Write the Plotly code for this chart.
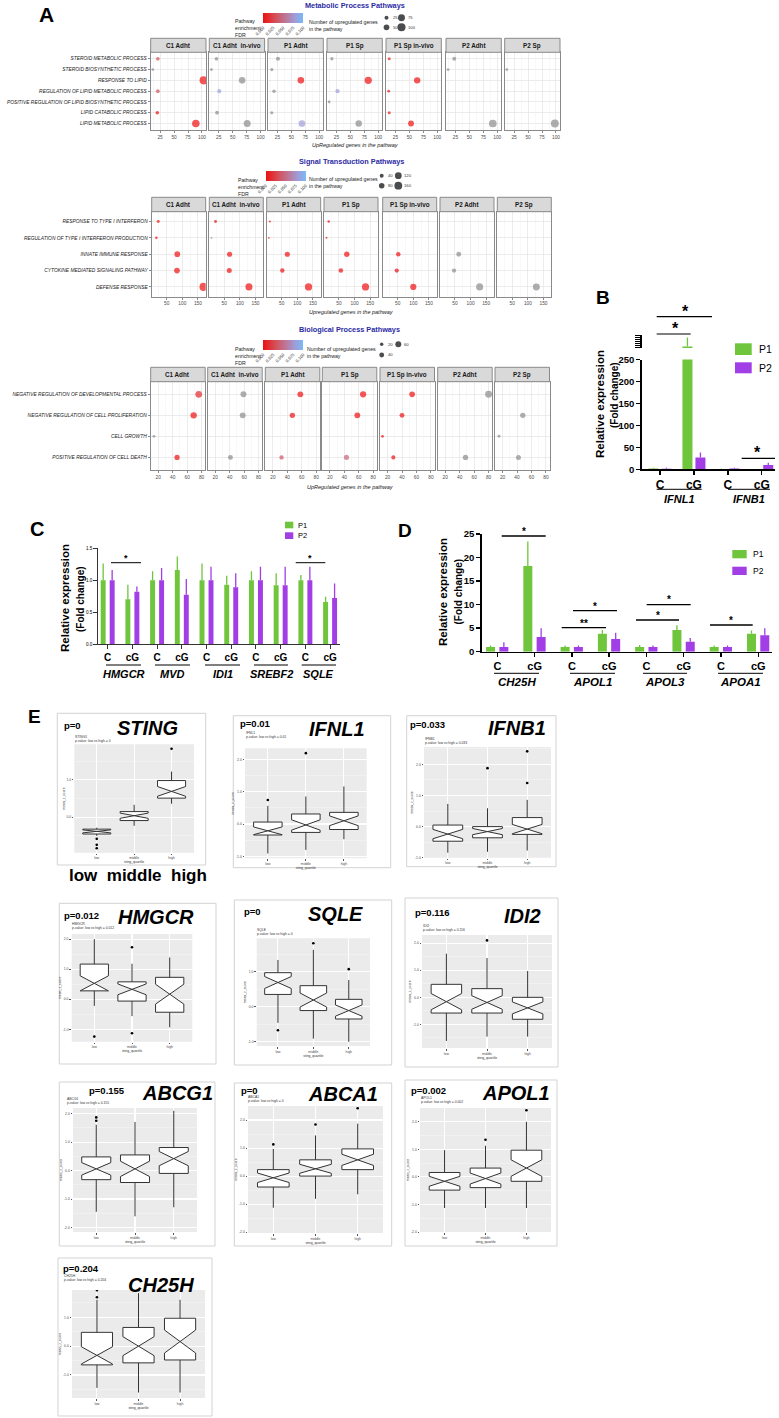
import plotly.graph_objects as go

W, H = 779, 1418
FONT = "Liberation Sans, Arial, sans-serif"
GREEN = "#6FC53B"
PURPLE = "#A13EE6"
DOT_GREY = "#8C8C8C"
NAVY = "#2B2BA3"
FDR_SCALE = [[0.0, "#EE1010"], [0.3, "#D44E56"], [0.6, "#B97CA0"], [0.8, "#9E9DD8"], [1.0, "#79BAF7"]]

# ======================= DATA =======================
FACETS = ["C1 Adht", "C1 Adht  in-vivo", "P1 Adht", "P1 Sp", "P1 Sp in-vivo", "P2 Adht", "P2 Sp"]
FDR_TICKS = [0.0, 0.025, 0.05, 0.075, 0.1]
FDR_TICK_TEXT = ["0.000", "0.025", "0.050", "0.075", "0.100"]

MET_PATHWAYS = ["STEROID METABOLIC PROCESS", "STEROID BIOSYNTHETIC PROCESS", "RESPONSE TO LIPID",
                "REGULATION OF LIPID METABOLIC PROCESS", "POSITIVE REGULATION OF LIPID BIOSYNTHETIC PROCESS",
                "LIPID CATABOLIC PROCESS", "LIPID METABOLIC PROCESS"]
MET_COUNTS = [
    [21, 12, 103, 21, None, 20, 89],
    [21, 12, 67, 26, None, 22, 76],
    [26, 15, 67, 19, None, 15, 69],
    [17, None, 82, 27, 12, None, 65],
    [14, None, 64, 13, None, 14, 53],
    [23, 12, None, None, None, None, 92],
    [None, 12, None, None, None, None, 98],
]
MET_FDR = [
    [0.03, None, 0.0, 0.03, None, 0.0, 0.0],
    [None, None, None, 0.085, None, None, None],
    [None, None, 0.0, None, None, None, 0.08],
    [None, None, 0.0, 0.08, None, None, None],
    [0.01, None, 0.0, 0.005, None, 0.005, 0.0],
    [None, None, None, None, None, None, None],
    [None, None, None, None, None, None, None],
]
MET_SIZE_LEGEND = [25, 75, 50, 100]

SIG_PATHWAYS = ["RESPONSE TO TYPE I INTERFERON", "REGULATION OF TYPE I INTERFERON PRODUCTION",
                "INNATE IMMUNE RESPONSE", "CYTOKINE MEDIATED SIGNALING PATHWAY", "DEFENSE RESPONSE"]
SIG_COUNTS = [
    [23, 17, 84, 83, 168],
    [22, 9, 67, 66, 129],
    [12, 9, 68, 52, 136],
    [17, 10, 75, 56, 135],
    [None, None, 52, 47, 100],
    [None, None, 62, 47, 129],
    [None, None, None, None, 127],
]
SIG_FDR = [
    [0.0, 0.0, 0.0, 0.0, 0.0],
    [0.0, None, 0.0, 0.0, 0.0],
    [0.0, 0.0, 0.0, 0.0, 0.0],
    [0.0, 0.0, 0.0, 0.0, 0.0],
    [None, None, 0.0, 0.0, 0.0],
    [None, None, None, None, None],
    [None, None, None, None, None],
]
SIG_SIZE_LEGEND = [40, 120, 80, 160]

BIO_PATHWAYS = ["NEGATIVE REGULATION OF DEVELOPMENTAL PROCESS", "NEGATIVE REGULATION OF CELL PROLIFERATION",
                "CELL GROWTH", "POSITIVE REGULATION OF CELL DEATH"]
BIO_COUNTS = [
    [76, 69, 14, 46],
    [59, 58, None, 41],
    [58, 47, None, 32],
    [66, 58, None, 43],
    [54, 40, 13, 28],
    [80, None, None, 48],
    [None, 48, 15, 42],
]
BIO_FDR = [
    [0.012, 0.0, None, 0.0],
    [None, None, None, None],
    [0.0, 0.0, None, 0.035],
    [0.0, 0.0, None, 0.045],
    [0.0, 0.0, 0.0, 0.0],
    [None, None, None, None],
    [None, None, None, None],
]
BIO_SIZE_LEGEND = [20, 60, 40]

# Panel B
B_TICKS = ["C", "cG", "C", "cG"]
B_GENES = ["IFNL1", "IFNB1"]
B_P1 = [2, 278, 0.5, 0.3]
B_P1_ERR = [1.5, 17, 0.5, 0.3]
B_P2 = [1.5, 27, 2, 10]
B_P2_ERR = [2, 11, 1.5, 5]
B_YTICKS = [0, 50, 100, 150, 200, 250]

# Panel C
C_GENES = ["HMGCR", "MVD", "IDI1", "SREBF2", "SQLE"]
C_TICKS = ["C", "cG"] * 5
C_P1 = [1.0, 0.70, 1.0, 1.16, 1.0, 0.93, 1.0, 0.92, 1.0, 0.66]
C_P1_ERR = [0.26, 0.23, 0.14, 0.21, 0.26, 0.14, 0.14, 0.19, 0.08, 0.08]
C_P2 = [1.0, 0.82, 1.0, 0.77, 1.0, 0.89, 1.0, 0.92, 1.0, 0.72]
C_P2_ERR = [0.16, 0.08, 0.19, 0.25, 0.21, 0.22, 0.21, 0.29, 0.21, 0.23]
C_YTICKS = [0.0, 0.5, 1.0, 1.5]

# Panel D
D_GENES = ["CH25H", "APOL1", "APOL3", "APOA1"]
D_TICKS = ["C", "cG"] * 4
D_P1 = [1.0, 18.2, 1.0, 3.8, 1.0, 4.6, 1.0, 3.8]
D_P1_ERR = [0.3, 5.2, 0.3, 0.8, 0.4, 1.0, 0.3, 0.7]
D_P2 = [1.0, 3.1, 1.0, 2.7, 1.0, 2.1, 1.0, 3.5]
D_P2_ERR = [1.0, 1.9, 0.3, 1.3, 0.3, 0.8, 0.3, 1.5]
D_YTICKS = [0, 5, 10, 15, 20, 25]

# Panel E (box statistics per sting quartile: low, middle, high)
QUARTILES = ["low", "middle", "high"]
E_GENES = ["STING", "IFNL1", "IFNB1", "HMGCR", "SQLE", "IDI2", "ABCG1", "ABCA1", "APOL1", "CH25H"]
E_SMALL = ["STING1", "IFNL1", "IFNB1", "HMGCR", "SQLE", "IDI2", "ABCG1", "ABCA1", "APOL1", "CH25H"]
E_PVALUES = ["0", "0.01", "0.033", "0.012", "0", "0.116", "0.155", "0", "0.002", "0.204"]

BOX_STING = dict(lo=[-0.50, -0.23, 0.36], q1=[-0.45, -0.09, 0.51], med=[-0.38, 0.04, 0.69],
                 q3=[-0.32, 0.15, 0.98], hi=[-0.28, 0.33, 1.22], notch=[0.04, 0.07, 0.13],
                 out_x=[0, 0, 0, 2], out_y=[-0.58, -0.74, -0.83, 1.83])
BOX_IFNL1 = dict(lo=[-0.91, -0.80, -0.47], q1=[-0.34, -0.26, -0.17], med=[-0.21, -0.03, 0.10],
                 q3=[0.06, 0.31, 0.36], hi=[0.56, 0.85, 1.16], notch=[0.12, 0.16, 0.15],
                 out_x=[0, 1], out_y=[0.74, 2.19])
BOX_IFNB1 = dict(lo=[-0.84, -0.81, -0.77], q1=[-0.47, -0.36, -0.25], med=[-0.24, -0.16, -0.08],
                 q3=[0.05, 0.0, 0.29], hi=[0.73, 0.59, 0.86], notch=[0.15, 0.10, 0.15],
                 out_x=[1, 2, 2], out_y=[1.88, 1.40, 2.42])
BOX_HMGCR = dict(lo=[-0.22, -0.56, -0.93], q1=[0.28, -0.06, -0.43], med=[0.53, 0.33, 0.17],
                 q3=[1.17, 0.58, 0.73], hi=[2.0, 1.18, 1.39], notch=[0.25, 0.18, 0.33],
                 out_x=[0, 1, 1], out_y=[-1.24, 1.73, -1.13])
BOX_SQLE = dict(lo=[-0.46, -0.91, -1.0], q1=[0.35, -0.11, -0.35], med=[0.69, 0.19, -0.11],
                q3=[0.97, 0.60, 0.21], hi=[1.33, 1.62, 0.76], notch=[0.17, 0.20, 0.16],
                out_x=[0, 1, 2], out_y=[-0.67, 1.81, 1.07])
BOX_IDI2 = dict(lo=[-1.61, -1.45, -1.45], q1=[-0.58, -0.58, -0.81], med=[-0.16, -0.19, -0.39],
                q3=[0.48, 0.32, 0.0], hi=[1.61, 1.45, 0.97], notch=[0.30, 0.25, 0.22],
                out_x=[1], out_y=[2.1])
BOX_ABCG1 = dict(lo=[-1.45, -1.61, -1.29], q1=[-0.32, -0.42, -0.10], med=[0.06, 0.06, 0.42],
                 q3=[0.48, 0.55, 0.81], hi=[1.61, 1.71, 2.10], notch=[0.22, 0.27, 0.25],
                 out_x=[0, 0], out_y=[1.87, 1.75])
BOX_ABCA1 = dict(lo=[-1.13, -0.81, -0.65], q1=[-0.39, 0.0, 0.23], med=[-0.06, 0.26, 0.58],
                 q3=[0.23, 0.58, 0.97], hi=[0.97, 1.45, 1.87], notch=[0.17, 0.16, 0.20],
                 out_x=[0, 1, 2], out_y=[1.13, 1.84, 2.42])
BOX_APOL1 = dict(lo=[-1.13, -1.13, -1.13], q1=[-0.48, -0.39, -0.16], med=[-0.16, -0.06, 0.32],
                 q3=[0.16, 0.32, 0.97], hi=[0.97, 1.13, 2.0], notch=[0.18, 0.20, 0.30],
                 out_x=[1, 2], out_y=[1.35, 2.42])
BOX_CH25H = dict(lo=[-1.45, -1.61, -1.61], q1=[-0.65, -0.58, -0.48], med=[-0.32, 0.0, 0.16],
                 q3=[0.48, 0.65, 0.97], hi=[1.61, 1.84, 1.61], notch=[0.30, 0.33, 0.40],
                 out_x=[0, 0, 1], out_y=[1.94, 1.70, 1.94])
E_BOXES = [BOX_STING, BOX_IFNL1, BOX_IFNB1, BOX_HMGCR, BOX_SQLE, BOX_IDI2, BOX_ABCG1, BOX_ABCA1, BOX_APOL1, BOX_CH25H]
E_YTICKS = [[0, 1], [-1, 0, 1, 2], [-1, 0, 1, 2], [-1, 0, 1, 2], [-1, 0, 1], [-1, 0, 1, 2],
            [-2, -1, 0, 1, 2], [-2, -1, 0, 1, 2], [-2, -1, 0, 1, 2], [-1, 0, 1]]

# ======================= LAYOUT GEOMETRY (pixels) =======================
E_GEOM = [
    dict(frame=(57.3, 713.3, 205.7, 865), inner=(74.3, 744.3, 194, 852.7), p=(63, 725), g=(147, 728.3), t=(74, 739), yr=[-0.95, 1.95]),
    dict(frame=(233.3, 715.7, 390.7, 867.7), inner=(245, 748.3, 366.7, 858.3), p=(239, 723), g=(336.5, 729), t=(245, 735), yr=[-1.06, 2.34]),
    dict(frame=(406.7, 715.7, 556, 866.7), inner=(424, 747, 551, 857.7), p=(409, 724), g=(516.5, 728), t=(424, 741), yr=[-1.0, 2.56]),
    dict(frame=(59.3, 903.3, 216, 1064), inner=(71.7, 934, 192.3, 1041.7), p=(63, 915), g=(155.5, 916.7), t=(71, 926), yr=[-1.41, 2.17]),
    dict(frame=(234.3, 900, 391.7, 1065), inner=(256.7, 938.3, 370, 1046), p=(243, 911.7), g=(335.5, 914), t=(256, 932), yr=[-1.12, 1.95]),
    dict(frame=(405, 898, 558, 1067), inner=(422, 935, 552, 1048), p=(414, 912), g=(522, 916), t=(422, 928), yr=[-1.87, 2.3]),
    dict(frame=(59.3, 1082, 215, 1246), inner=(73, 1108, 197, 1232), p=(88, 1090), g=(177.5, 1093), t=(66, 1101), yr=[-2.16, 2.2]),
    dict(frame=(234.3, 1083, 391.7, 1246), inner=(248, 1106, 383, 1233), p=(240, 1090), g=(343, 1094), t=(247, 1099), yr=[-2.03, 2.5]),
    dict(frame=(405, 1080, 557, 1246), inner=(420, 1108, 551, 1232), p=(410, 1090), g=(516, 1093), t=(420, 1100), yr=[-2.0, 2.5]),
    dict(frame=(58, 1258, 212, 1416), inner=(72, 1290, 205, 1398), p=(62, 1268), g=(161, 1285), t=(63, 1278), yr=[-1.8, 1.95]),
]

fig = go.Figure()
axes_layout = {}
shapes = []
annotations = []
_n = [0]


def new_axes(x0, y0, x1, y1, xa, ya):
    _n[0] += 1
    k = _n[0]
    sx = '' if k == 1 else str(k)
    xa = dict(xa)
    ya = dict(ya)
    xa.update(domain=[max(0, x0 / W), min(1, x1 / W)], anchor='y' + sx, automargin=False)
    ya.update(domain=[max(0, 1 - y1 / H), min(1, 1 - y0 / H)], anchor='x' + sx, automargin=False)
    axes_layout['xaxis' + sx] = xa
    axes_layout['yaxis' + sx] = ya
    return 'x' + sx, 'y' + sx


def ann(x, y, text, size, color='black', xanchor='center', yanchor='middle', bold=False, italic=False,
        angle=0, align='center'):
    t = text
    if italic:
        t = '<i>' + t + '</i>'
    if bold:
        t = '<b>' + t + '</b>'
    annotations.append(dict(xref='paper', yref='paper', x=x / W, y=1 - y / H, text=t, showarrow=False,
                            font=dict(size=size, color=color, family=FONT), xanchor=xanchor,
                            yanchor=yanchor, textangle=angle, align=align, borderpad=0))


def hline(x0, x1, y, color='black', width=1.0):
    shapes.append(dict(type='line', xref='paper', yref='paper', x0=x0 / W, x1=x1 / W, y0=1 - y / H,
                       y1=1 - y / H, line=dict(color=color, width=width)))


def rect(x0, y0, x1, y1, fill, lc, lw=1.0):
    shapes.append(dict(type='rect', xref='paper', yref='paper', x0=x0 / W, x1=x1 / W, y0=1 - y1 / H,
                       y1=1 - y0 / H, fillcolor=fill, line=dict(color=lc, width=lw)))


def star(x, yc, size, text='*'):
    ann(x, yc + 0.25 * size, text, size, bold=True)


# overlay axis in pixel units (used for the size legends)
OX, OY = new_axes(0, 0, W, H, dict(range=[0, W], visible=False), dict(range=[H, 0], visible=False))

# ======================= PANEL A =======================
SECTIONS = [
    dict(title="Metabolic Process Pathways", title_xy=(355, 5.5), paths=MET_PATHWAYS, counts=MET_COUNTS,
         fdr=MET_FDR, legend=MET_SIZE_LEGEND,
         x0s=[150.7, 209.3, 268.0, 327.0, 386.0, 446.0, 504.7], w=55.3, strip=(38.3, 52.3), body=(52.3, 130.0),
         xr=[8.2, 107.2], xt=[25, 50, 75, 100], xm=[12.5, 37.5, 62.5, 87.5], sizeref=3.1, cax='coloraxis',
         cbar=(263.3, 12.7), fdr_txt=(234, 17), size_txt=(307.5, 17.5), size_cols=(386.5, 401.5),
         size_rows=(17.7, 27.3), xtitle="UpRegulated genes in the pathway", xtitle_y=144.5),
    dict(title="Signal Transduction Pathways", title_xy=(351.7, 161.7), paths=SIG_PATHWAYS, counts=SIG_COUNTS,
         fdr=SIG_FDR, legend=SIG_SIZE_LEGEND,
         x0s=[151.7, 209.3, 266.7, 324.0, 382.7, 440.0, 497.3], w=54.0, strip=(197.3, 211.7), body=(211.7, 296.7),
         xr=[2, 175], xt=[50, 100, 150], xm=[25, 75, 125], sizeref=5.2, cax='coloraxis2',
         cbar=(265.7, 170.7), fdr_txt=(237, 176.5), size_txt=(307.7, 175.5), size_cols=(381.7, 398.3),
         size_rows=(175.7, 185.7), xtitle="Upregulated genes in the pathway", xtitle_y=311.7),
    dict(title="Biological Process Pathways", title_xy=(349.5, 330), paths=BIO_PATHWAYS, counts=BIO_COUNTS,
         fdr=BIO_FDR, legend=BIO_SIZE_LEGEND,
         x0s=[150.7, 207.7, 265.3, 322.3, 380.0, 437.7, 495.0], w=54.5, strip=(367.3, 381.7), body=(381.7, 470.0),
         xr=[9.5, 85], xt=[20, 40, 60, 80], xm=[10, 30, 50, 70], sizeref=3.37, cax='coloraxis3',
         cbar=(263.3, 340), fdr_txt=(234, 345), size_txt=(306, 344.5), size_cols=(381.7, 398.3),
         size_rows=(344.3, 355), xtitle="UpRegulated genes in the pathway", xtitle_y=486.7),
]

coloraxes = {}
for s in SECTIONS:
    n = len(s['paths'])
    for j, fname in enumerate(FACETS):
        x0 = s['x0s'][j]
        x1 = x0 + s['w']
        xa = dict(range=s['xr'], tickmode='array', tickvals=s['xt'], ticktext=[str(v) for v in s['xt']],
                  tickfont=dict(size=4.8, color='#4D4D4D', family=FONT), ticks='outside', ticklen=2,
                  tickcolor='#8A8A8A', showgrid=True, gridcolor='#E4E4E4', gridwidth=0.7,
                  minor=dict(showgrid=True, gridcolor='#F1F1F1', gridwidth=0.5, tickvals=s['xm']),
                  showline=True, mirror=True, linecolor='#8A8A8A', linewidth=1, zeroline=False)
        ya = dict(range=[n - 0.4, -0.6], tickmode='array', tickvals=list(range(n)),
                  ticktext=['<i>' + p + '</i>' for p in s['paths']], showticklabels=(j == 0),
                  ticks='outside' if j == 0 else '', ticklen=2, tickcolor='#8A8A8A',
                  tickfont=dict(size=4.9, color='#1A1A1A', family=FONT), showgrid=True, gridcolor='#E4E4E4',
                  gridwidth=0.7, showline=True, mirror=True, linecolor='#8A8A8A', linewidth=1, zeroline=False)
        xr, yr = new_axes(x0, s['body'][0], x1, s['body'][1], xa, ya)
        cnt = s['counts'][j]
        fdr = s['fdr'][j]
        gx, gy, cx, cy, cc = [], [], [], [], []
        for i in range(n):
            if cnt[i] is None:
                continue
            if fdr[i] is None:
                gx.append(cnt[i]); gy.append(i)
            else:
                cx.append(cnt[i]); cy.append(i); cc.append(fdr[i])
        if gx:
            fig.add_trace(go.Scatter(x=gx, y=gy, mode='markers', xaxis=xr, yaxis=yr, showlegend=False,
                                     marker=dict(size=gx, sizemode='area', sizeref=s['sizeref'], color=DOT_GREY,
                                                 line=dict(width=0))))
        if cx:
            fig.add_trace(go.Scatter(x=cx, y=cy, mode='markers', xaxis=xr, yaxis=yr, showlegend=False,
                                     marker=dict(size=cx, sizemode='area', sizeref=s['sizeref'], color=cc,
                                                 coloraxis=s['cax'], line=dict(width=0))))
        rect(x0, s['strip'][0], x1, s['strip'][1], '#D9D9D9', '#8A8A8A', 1)
        ann((x0 + x1) / 2, (s['strip'][0] + s['strip'][1]) / 2 + 0.3, fname, 6.3, color='#1A1A1A', bold=True)
    # titles & legends
    ann(s['title_xy'][0], s['title_xy'][1], s['title'], 7.3, color=NAVY, bold=True)
    ann(s['fdr_txt'][0], s['fdr_txt'][1], "Pathway<br>enrichment<br>FDR", 5.2, color='#1A1A1A',
        xanchor='left', yanchor='top', align='left')
    ann(s['size_txt'][0], s['size_txt'][1], "Number of upregulated genes<br>in the pathway", 5.2,
        color='#1A1A1A', xanchor='left', yanchor='top', align='left')
    ann((s['x0s'][0] + s['x0s'][-1] + s['w']) / 2 + 0, s['xtitle_y'], s['xtitle'], 5.5, color='#1A1A1A',
        italic=True)
    lx, ly = [], []
    for k, v in enumerate(s['legend']):
        lx.append(s['size_cols'][k % 2])
        ly.append(s['size_rows'][k // 2])
        ann(s['size_cols'][k % 2] + 5, s['size_rows'][k // 2], str(v), 4.2, color='#333', xanchor='left')
    fig.add_trace(go.Scatter(x=lx, y=ly, mode='markers', xaxis=OX, yaxis=OY, showlegend=False,
                             marker=dict(size=s['legend'], sizemode='area', sizeref=s['sizeref'], color='black',
                                         line=dict(width=0))))
    coloraxes[s['cax']] = dict(cmin=0, cmax=0.1, colorscale=FDR_SCALE, colorbar=dict(
        orientation='h', x=s['cbar'][0] / W, xanchor='left', y=1 - s['cbar'][1] / H, yanchor='top',
        len=40, lenmode='pixels', thickness=10, thicknessmode='pixels', tickmode='array', tickvals=FDR_TICKS,
        ticktext=FDR_TICK_TEXT, tickangle=-45, tickfont=dict(size=4.3, family=FONT, color='#333'),
        ticks='', outlinewidth=0, xpad=0, ypad=0))

ann(46, 14.5, "A", 21, bold=True)

# ======================= PANEL B =======================
def bar_axes(x0, y0, x1, y1, xrange, ticks, tickfont, yrange, yticks, ytext, yfont, lw, lc):
    xa = dict(range=xrange, tickmode='array', tickvals=list(range(len(ticks))),
              ticktext=['<b>' + t + '</b>' for t in ticks], tickfont=dict(size=tickfont, family=FONT, color='black'),
              ticks='outside', ticklen=4, tickwidth=lw, tickcolor=lc, showline=True, linecolor=lc, linewidth=lw,
              showgrid=False, zeroline=False)
    ya = dict(range=yrange, tickmode='array', tickvals=yticks, ticktext=ytext,
              tickfont=dict(size=yfont, family=FONT, color='black'), ticks='outside', ticklen=4, tickwidth=lw,
              tickcolor=lc, showline=True, linecolor=lc, linewidth=lw, showgrid=False, zeroline=False)
    return new_axes(x0, y0, x1, y1, xa, ya)


XB, YB = bar_axes(641.7, 359.5, 775, 469.3, [-0.54, 3.39], B_TICKS, 12, [0, 250], B_YTICKS,
                  ['<b>' + str(v) + '</b>' for v in B_YTICKS], 9.5, 1.4, 'black')
XB2, YB2 = new_axes(641.7, 335, 775, 348, dict(range=[-0.54, 3.39], visible=False),
                    dict(range=[275, 300], tickmode='array', tickvals=[276, 280, 284, 288, 292, 296, 300],
                         showticklabels=False, ticks='outside', ticklen=5, tickwidth=1, tickcolor='black',
                         showline=True, linecolor='black', linewidth=1.4, showgrid=False, zeroline=False))


def add_bars(xr, yr, vals, errs, color, width, offset):
    fig.add_trace(go.Bar(x=list(range(len(vals))), y=vals, width=width, offset=offset, xaxis=xr, yaxis=yr,
                         showlegend=False, marker=dict(color=color, line=dict(width=0)),
                         error_y=dict(type='data', array=errs, arrayminus=[0] * len(errs), symmetric=False,
                                      width=0, thickness=1.3, color=color)))


add_bars(XB, YB, B_P1, B_P1_ERR, GREEN, 0.295, -0.339)
add_bars(XB, YB, B_P2, B_P2_ERR, PURPLE, 0.295, 0.044)
add_bars(XB2, YB2, B_P1, B_P1_ERR, GREEN, 0.295, -0.339)

for (gx0, gx1, gname) in [(656.7, 701.7, B_GENES[0]), (728, 770, B_GENES[1])]:
    hline(gx0, gx1, 489.3, 'black', 1)
    ann((gx0 + gx1) / 2, 498.5, gname, 11, bold=True, italic=True)
hline(656.7, 712, 316.7, 'black', 1.2)
star(685, 307, 16)
hline(656.7, 690.7, 334, 'black', 1.2)
star(675, 325, 16)
hline(741.7, 775, 458.3, 'black', 1.2)
star(757, 448.5, 16)
ann(600, 404, "Relative expression", 11.5, bold=True, angle=-90)
ann(614, 395, "(Fold change)", 10, bold=True, angle=-90)
rect(735, 343.3, 751.7, 355, GREEN, GREEN, 0)
ann(758, 349.2, "P1", 10.5, xanchor='left')
rect(735, 362.3, 751.7, 373.3, PURPLE, PURPLE, 0)
ann(758, 368, "P2", 10.5, xanchor='left')
ann(603.3, 297, "B", 19, bold=True)

# ======================= PANEL C =======================
XC, YC = bar_axes(98.3, 548.3, 340, 644, [-0.38, 9.4], C_TICKS, 10, [0, 1.5], C_YTICKS,
                  ['%.1f' % v for v in C_YTICKS], 4.6, 1.0, '#333333')
add_bars(XC, YC, C_P1, C_P1_ERR, GREEN, 0.2, -0.283)
add_bars(XC, YC, C_P2, C_P2_ERR, PURPLE, 0.2, 0.081)
for (gx0, gx1, gname) in [(106, 141, C_GENES[0]), (155, 190, C_GENES[1]), (205, 240, C_GENES[2]),
                          (254, 288, C_GENES[3]), (301.7, 336, C_GENES[4])]:
    hline(gx0, gx1, 665, 'black', 1)
    ann((gx0 + gx1) / 2, 673.8, gname, 11, bold=True, italic=True)
hline(111, 141, 562.7, 'black', 1)
star(126, 556, 9)
hline(295.7, 325.3, 562.7, 'black', 1)
star(310, 556, 9)
ann(65, 598, "Relative expression", 11.5, bold=True, angle=-90)
ann(80, 599, "(Fold change)", 10, bold=True, angle=-90)
rect(285, 521.7, 293.3, 528.3, GREEN, GREEN, 0)
ann(296.5, 525, "P1", 7.5, xanchor='left')
rect(285, 532.3, 293.3, 539, PURPLE, PURPLE, 0)
ann(296.5, 535.8, "P2", 7.5, xanchor='left')
ann(36.7, 529, "C", 20, bold=True)

# ======================= PANEL D =======================
XD, YD = bar_axes(481.7, 534, 771.7, 651.7, [-0.42, 7.36], D_TICKS, 11, [0, 25], D_YTICKS,
                  ['<b>' + str(v) + '</b>' for v in D_YTICKS], 9.5, 1.4, 'black')
add_bars(XD, YD, D_P1, D_P1_ERR, GREEN, 0.241, -0.303)
add_bars(XD, YD, D_P2, D_P2_ERR, PURPLE, 0.241, 0.054)
for (gx0, gx1, gname) in [(494, 539, D_GENES[0]), (570, 615, D_GENES[1]), (643, 687, D_GENES[2]),
                          (718, 763, D_GENES[3])]:
    hline(gx0, gx1, 673.3, 'black', 1)
    ann((gx0 + gx1) / 2, 682, gname, 11.5, bold=True, italic=True)
hline(501.7, 545.7, 536, 'black', 1.3)
star(524, 529, 10)
hline(561.7, 606, 627.7, 'black', 1.3)
star(584, 620.5, 10, '**')
hline(573, 617, 610.7, 'black', 1.3)
star(595, 603.5, 10)
hline(636, 679, 620, 'black', 1.3)
star(658, 612.7, 10)
hline(646.7, 690.7, 604.7, 'black', 1.3)
star(669, 597.3, 10)
hline(710, 752.7, 625, 'black', 1.3)
star(731, 618.3, 10)
ann(443, 592, "Relative expression", 11.5, bold=True, angle=-90)
ann(457.5, 592, "(Fold change)", 10, bold=True, angle=-90)
rect(732.3, 550, 746.7, 558.3, GREEN, GREEN, 0)
ann(752, 554.3, "P1", 8.5, xanchor='left')
rect(732.3, 566.7, 746.7, 575, PURPLE, PURPLE, 0)
ann(752, 571, "P2", 8.5, xanchor='left')
ann(405, 530, "D", 19, bold=True)

# ======================= PANEL E =======================
for idx, gene in enumerate(E_GENES):
    g = E_GEOM[idx]
    b = E_BOXES[idx]
    yt = E_YTICKS[idx]
    fx0, fy0, fx1, fy1 = g['frame']
    rect(fx0, fy0, fx1, fy1, 'rgba(0,0,0,0)', '#D3D3D3', 1)
    ix0, iy0, ix1, iy1 = g['inner']
    minor_y = [v + 0.5 for v in yt] + [yt[0] - 0.5]
    xa = dict(range=[-0.6, 2.6], tickmode='array', tickvals=[0, 1, 2], ticktext=QUARTILES,
              tickfont=dict(size=3.4, color='#4D4D4D', family=FONT), ticks='outside', ticklen=1.5,
              tickcolor='#555', showgrid=True, gridcolor='white', gridwidth=1.1, zeroline=False, showline=False,
              title=dict(text='sting_quartile', font=dict(size=3.4, color='#333', family=FONT), standoff=1))
    ya = dict(range=g['yr'], tickmode='array', tickvals=yt, ticktext=['%.1f' % v for v in yt],
              tickfont=dict(size=3.4, color='#4D4D4D', family=FONT), ticks='outside', ticklen=1.5,
              tickcolor='#555', showgrid=True, gridcolor='white', gridwidth=1.1,
              minor=dict(showgrid=True, gridcolor='#F7F7F7', gridwidth=0.5, tickvals=minor_y),
              zeroline=False, showline=False,
              title=dict(text='mean_z_score', font=dict(size=3.4, color='#333', family=FONT), standoff=1))
    xr, yr = new_axes(ix0, iy0, ix1, iy1, xa, ya)
    shapes.append(dict(type='rect', xref=xr + ' domain', yref=yr + ' domain', x0=0, x1=1, y0=0, y1=1,
                       fillcolor='#EBEBEB', line=dict(width=0), layer='below'))
    fig.add_trace(go.Box(x=[0, 1, 2], q1=b['q1'], median=b['med'], q3=b['q3'], lowerfence=b['lo'],
                         upperfence=b['hi'], notchspan=b['notch'], notched=True, notchwidth=0.5, width=0.75,
                         orientation='v', fillcolor='white', line=dict(color='#333333', width=1),
                         whiskerwidth=0, boxpoints=False, xaxis=xr, yaxis=yr, showlegend=False))
    fig.add_trace(go.Scatter(x=b['out_x'], y=b['out_y'], mode='markers', xaxis=xr, yaxis=yr, showlegend=False,
                             marker=dict(size=2.6, color='black', line=dict(width=0))))
    ann(g['p'][0], g['p'][1], 'p=' + E_PVALUES[idx], 9.5, bold=True, xanchor='left')
    ann(g['g'][0], g['g'][1], gene, 20, bold=True, italic=True)
    ann(g['t'][0], g['t'][1], E_SMALL[idx] + '<br>p-value: low vs high = ' + E_PVALUES[idx], 3.4,
        color='#333', xanchor='left', align='left')

ann(138, 875, "low  middle  high", 17, bold=True)
ann(34, 716, "E", 19, bold=True)

fig.update_layout(width=W, height=H, margin=dict(l=0, r=0, t=0, b=0), template='none',
                  paper_bgcolor='white', plot_bgcolor='rgba(0,0,0,0)', showlegend=False,
                  font=dict(family=FONT), shapes=shapes, annotations=annotations, **axes_layout, **coloraxes)
fig.write_html("out.html", config={'displayModeBar': False, 'staticPlot': True},
               post_script="document.body.style.margin='0px';document.body.style.padding='0px';"
                           "document.documentElement.style.overflow='hidden';")
